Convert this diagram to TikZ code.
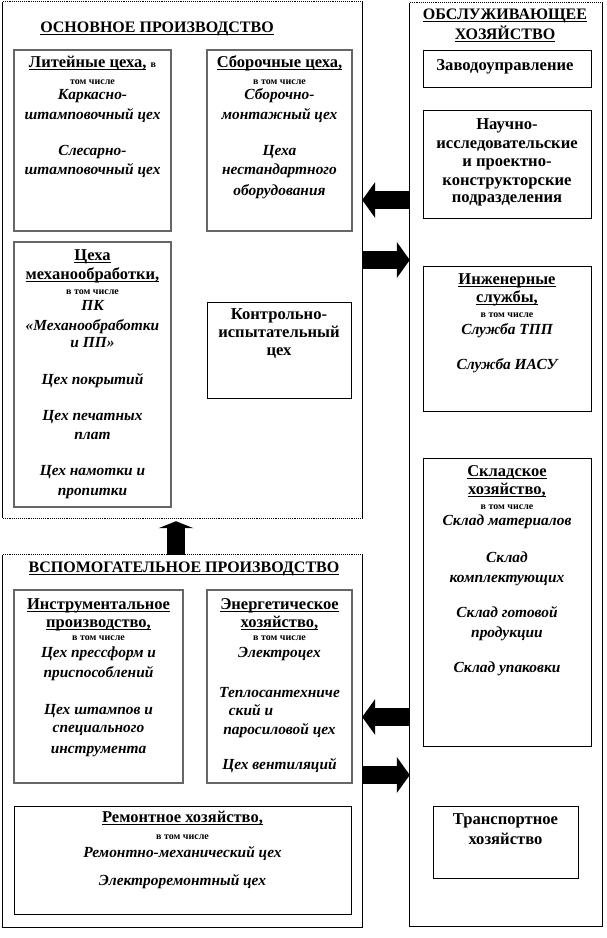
\documentclass[tikz,border=0pt]{standalone}
\usepackage{fontspec}
\setmainfont{Liberation Serif}
\usetikzlibrary{arrows.meta,fit}
\newsavebox\ulbox
\newcommand{\ul}[1]{\sbox\ulbox{#1}\rlap{\rule[-3pt]{\wd\ulbox}{1.5pt}}\usebox\ulbox}
\newcommand{\smf}{\fontsize{10}{11}\selectfont\bfseries}
\begin{document}
\begin{tikzpicture}[x=1pt,y=-1pt,
  outerbox/.style={inner sep=0pt},
  graybox/.style={draw=black!60, line width=1.4pt, inner sep=0pt},
  plainbox/.style={draw=black, line width=0.9pt, inner sep=0pt},
  ttl/.style={font=\fontsize{16}{18}\selectfont\bfseries, inner sep=0pt, anchor=mid},
  hd/.style={font=\fontsize{16.5}{18}\selectfont\bfseries, inner sep=0pt, anchor=mid},
  bd/.style={font=\fontsize{16.6}{18}\selectfont\bfseries, inner sep=0pt, anchor=mid},
  it/.style={font=\fontsize{15.4}{17}\selectfont\bfseries\itshape, inner sep=0pt, anchor=mid},
  sm/.style={font=\smf, inner sep=0pt, anchor=mid},
  blockarr/.style={line width=18pt, -{Triangle[width=36pt,length=13pt,line width=0pt]}},
  uparr/.style={line width=18pt, -{Triangle[width=35pt,length=7pt,line width=0pt]}}
]
\useasboundingbox (0,0) rectangle (606,938);
\fill[white] (0,0) rectangle (606,938);

% outer containers
\node[outerbox, fit={(3,2) (362,518)}] (osn) {};
\node[outerbox, fit={(3,555) (362,927)}] (vsp) {};
\node[outerbox, fit={(410,3) (602,926)}] (obs) {};
\draw[line width=0.9pt] (osn.north west) -- (osn.south west) (osn.north east) -- (osn.south east);
\draw[line width=0.9pt, densely dotted] (osn.north west) -- (osn.north east) (osn.south west) -- (osn.south east);
\draw[line width=0.9pt] (vsp.north west) -- (vsp.south west) -- (vsp.south east) -- (vsp.north east);
\draw[line width=0.9pt, densely dotted] (vsp.north west) -- (vsp.north east);
\draw[line width=0.9pt] (obs.north west) -- (obs.south west) -- (obs.south east) -- (obs.north east);
\draw[line width=0.9pt, densely dotted] (obs.north west) -- (obs.north east);

% inner boxes
\node[graybox, fit={(14,50) (171,231)}] (lit) {};
\node[graybox, fit={(207,50) (352,231)}] (sbor) {};
\node[graybox, fit={(14,242) (171,507)}] (mech) {};
\node[plainbox, fit={(207,302) (351,398)}] (kon) {};
\node[graybox, fit={(14,590) (183,783)}] (instr) {};
\node[graybox, fit={(207,590) (352,783)}] (energ) {};
\node[plainbox, fit={(14,806) (351,914)}] (rem) {};
\node[plainbox, fit={(423,50) (591,87)}] (zav) {};
\node[plainbox, fit={(423,110) (591,218)}] (nauch) {};
\node[plainbox, fit={(423,266) (591,411)}] (inzh) {};
\node[plainbox, fit={(423,458) (591,746)}] (sklad) {};
\node[plainbox, fit={(433,806) (578,878)}] (trans) {};

% titles
\node[ttl] (tosn) at (157,30) {\ul{ОСНОВНОЕ ПРОИЗВОДСТВО}};
\node[ttl] (tvsp) at (184,570) {\ul{ВСПОМОГАТЕЛЬНОЕ ПРОИЗВОДСТВО}};
\node[ttl] (tobs1) at (505,17) {\ul{ОБСЛУЖИВАЮЩЕЕ}};
\node[ttl] (tobs2) at (505,37) {\ul{ХОЗЯЙСТВО}};

% Литейные цеха
\node[hd] (lit1) at (92.5,65) {\ul{Литейные цеха,} {\smf в}};
\node[sm] (lit2) at (92.5,82) {том числе};
\node[it] (lit3) at (92.5,97) {Каркасно-};
\node[it] (lit4) at (92.5,117) {штамповочный цех};
\node[it] (lit5) at (92.5,153) {Слесарно-};
\node[it] (lit6) at (92.5,172) {штамповочный цех};

% Сборочные цеха
\node[hd] (sb1) at (279.5,65) {\ul{Сборочные цеха,}};
\node[sm] (sb2) at (279.5,82) {в том числе};
\node[it] (sb3) at (279.5,97) {Сборочно-};
\node[it] (sb4) at (279.5,117) {монтажный цех};
\node[it] (sb5) at (279.5,153) {Цеха};
\node[it] (sb6) at (279.5,172) {нестандартного};
\node[it] (sb7) at (279.5,193) {оборудования};

% Цеха механообработки
\node[hd] (mh1) at (92.5,258) {\ul{Цеха}};
\node[hd] (mh2) at (92.5,277) {\ul{механообработки,}};
\node[sm] (mh3) at (92.5,292) {в том числе};
\node[it] (mh4) at (92.5,308) {ПК};
\node[it] (mh5) at (92.5,328) {«Механообработки};
\node[it] (mh6) at (92.5,345) {и ПП»};
\node[it] (mh7) at (92.5,382) {Цех покрытий};
\node[it] (mh8) at (92.5,418) {Цех печатных};
\node[it] (mh9) at (92.5,437) {плат};
\node[it] (mh10) at (92.5,473) {Цех намотки и};
\node[it] (mh11) at (92.5,493) {пропитки};

% Контрольно-испытательный
\node[bd] (k1) at (279,317) {Контрольно-};
\node[bd] (k2) at (279,335) {испытательный};
\node[bd] (k3) at (279,353) {цех};

% Инструментальное
\node[hd] (in1) at (98.5,607) {\ul{Инструментальное}};
\node[hd] (in2) at (98.5,625) {\ul{производство,}};
\node[sm] (in3) at (98.5,638) {в том числе};
\node[it] (in4) at (98.5,655) {Цех прессформ и};
\node[it] (in5) at (98.5,675) {приспособлений};
\node[it] (in6) at (98.5,712) {Цех штампов и};
\node[it] (in7) at (98.5,730) {специального};
\node[it] (in8) at (98.5,751) {инструмента};

% Энергетическое
\node[hd] (en1) at (279.5,607) {\ul{Энергетическое}};
\node[hd] (en2) at (279.5,625) {\ul{хозяйство,}};
\node[sm] (en3) at (279.5,638) {в том числе};
\node[it] (en4) at (279.5,655) {Электроцех};
\node[it] (en5) at (279.5,695) {Теплосантехниче};
\node[it] (en6) at (251,713) {ский и};
\node[it] (en7) at (279.5,732) {паросиловой цех};
\node[it] (en8) at (279.5,767) {Цех вентиляций};

% Ремонтное
\node[hd] (rm1) at (182.5,820) {\ul{Ремонтное хозяйство,}};
\node[sm] (rm2) at (182.5,837) {в том числе};
\node[it] (rm3) at (182.5,855) {Ремонтно-механический цех};
\node[it] (rm4) at (182.5,883) {Электроремонтный цех};

% Обслуживающее
\node[bd] (zv1) at (505,68) {Заводоуправление};
\node[bd] (nc1) at (507,127) {Научно-};
\node[bd] (nc2) at (507,146) {исследовательские};
\node[bd] (nc3) at (507,164) {и проектно-};
\node[bd] (nc4) at (507,183) {конструкторские};
\node[bd] (nc5) at (507,200) {подразделения};

\node[hd] (ij1) at (507,282) {\ul{Инженерные}};
\node[hd] (ij2) at (507,300) {\ul{службы,}};
\node[sm] (ij3) at (507,315) {в том числе};
\node[it] (ij4) at (507,332) {Служба ТПП};
\node[it] (ij5) at (507,367) {Служба ИАСУ};

\node[hd] (sk1) at (507,474) {\ul{Складское}};
\node[hd] (sk2) at (507,492) {\ul{хозяйство,}};
\node[sm] (sk3) at (507,507) {в том числе};
\node[it] (sk4) at (507,523) {Склад материалов};
\node[it] (sk5) at (507,560) {Склад};
\node[it] (sk6) at (507,580) {комплектующих};
\node[it] (sk7) at (507,615) {Склад готовой};
\node[it] (sk8) at (507,635) {продукции};
\node[it] (sk9) at (507,670) {Склад упаковки};

\node[bd] (tr1) at (505.5,822) {Транспортное};
\node[bd] (tr2) at (505.5,842) {хозяйство};

% block arrows
\coordinate (ya) at (0,200);
\coordinate (yb) at (0,260);
\coordinate (yc) at (0,717);
\coordinate (yd) at (0,775);
\coordinate (xu) at (176,0);
\draw[blockarr] (obs.west |- ya) -- (osn.east |- ya);
\draw[blockarr] (osn.east |- yb) -- (obs.west |- yb);
\draw[blockarr] (obs.west |- yc) -- (vsp.east |- yc);
\draw[blockarr] (vsp.east |- yd) -- (obs.west |- yd);
\draw[uparr] (xu |- vsp.north) -- ([yshift=-3pt]xu |- osn.south);
\end{tikzpicture}
\end{document}
